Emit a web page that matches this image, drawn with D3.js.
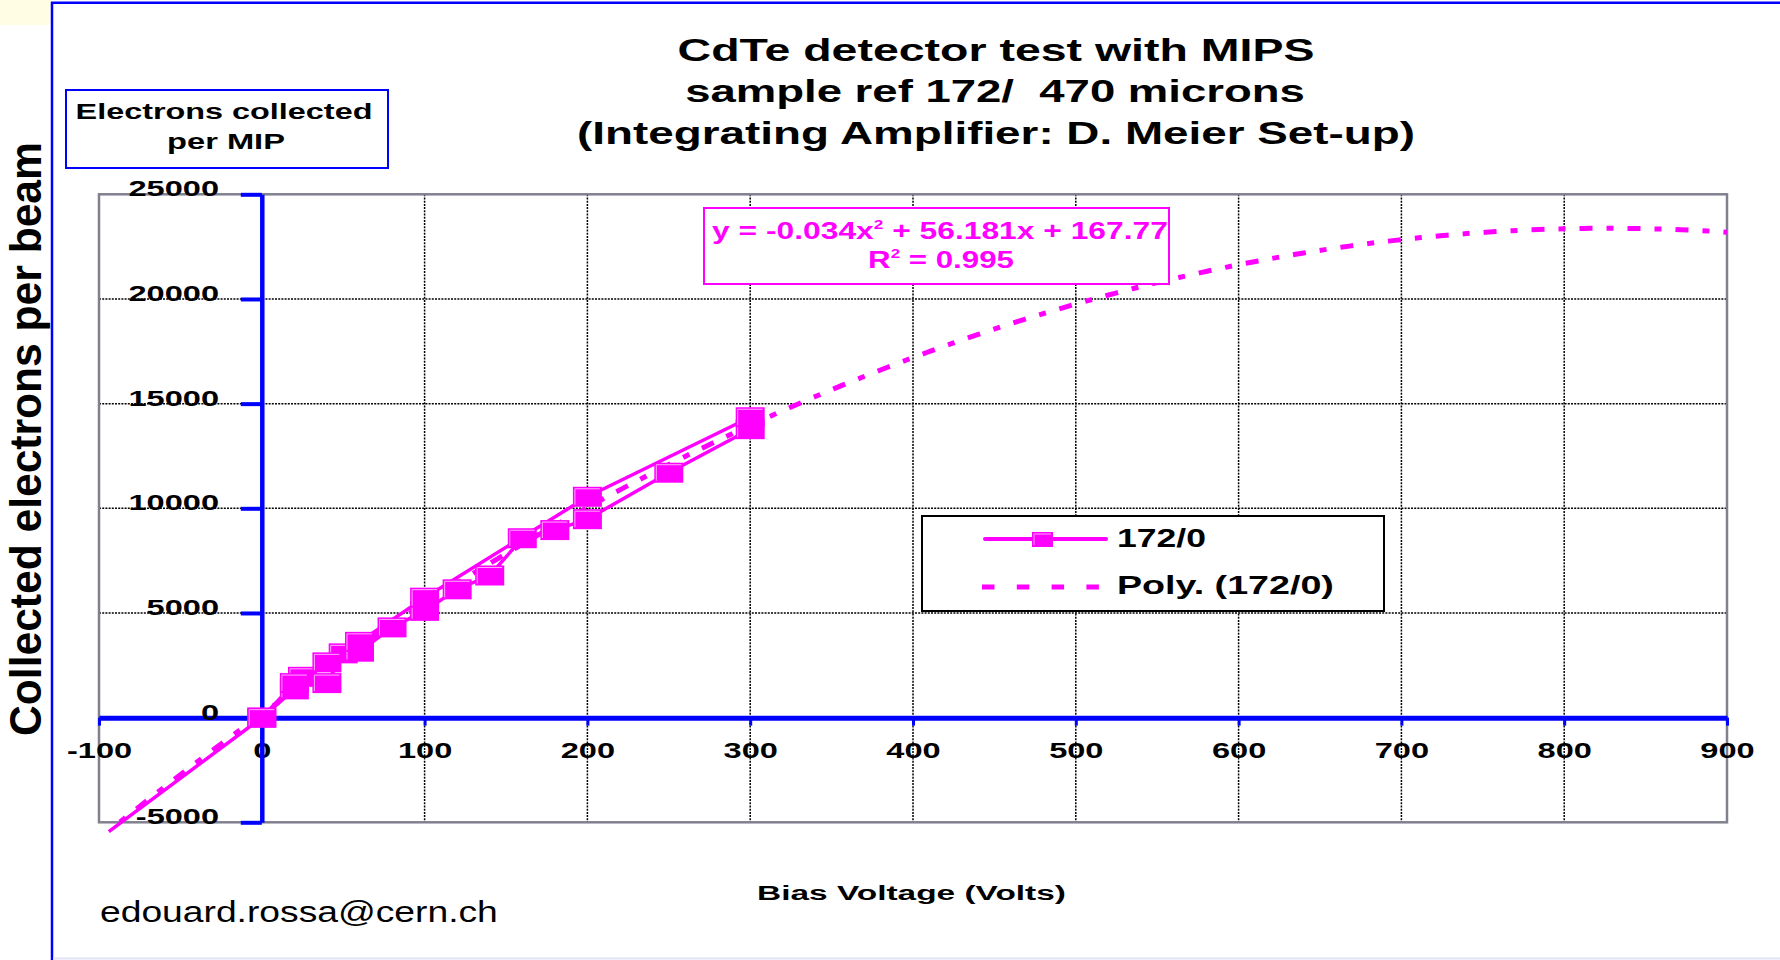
<!DOCTYPE html>
<html>
<head>
<meta charset="utf-8">
<script src="https://cdn.jsdelivr.net/npm/d3@7"></script>
<style>
  html, body { margin: 0; padding: 0; background: #ffffff; }
  svg { display: block; font-family: "Liberation Sans", Arial, Helvetica, sans-serif; }
</style>
</head>
<body>
<svg id="chart" width="1780" height="960"></svg>
<script>
// ---- chart data ----
const titleLines = [
  "CdTe detector test with MIPS",
  "sample ref 172/  470 microns",
  "(Integrating Amplifier: D. Meier Set-up)"
];
const unitLabel = ["Electrons collected", "per MIP"];
const xTitle = "Bias Voltage (Volts)";
const yTitle = "Collected electrons per beam";
const author = "edouard.rossa@cern.ch";
const seriesName = "172/0";
const xTicks = [-100, 0, 100, 200, 300, 400, 500, 600, 700, 800, 900];
const yTicks = [-5000, 0, 5000, 10000, 15000, 20000, 25000];

// measurement sequence: ramp up to 300 V, back down, then the negative bias point
const biasVolts = [0, 20, 25, 40, 50, 60, 80, 100, 120, 140, 160, 180, 200, 250, 300,
                   300, 200, 100, 60, 40, 20, 0, -94];
const electrons = [0, 1350, 1950, 1650, 3070, 3150, 4310, 5100, 6130, 6790, 8570, 8960, 9480, 11700, 13780,
                   14350, 10550, 5730, 3620, 2640, 1650, 0, -5450];

// second order polynomial fit: y = a x^2 + b x + c
const trendCoefficients = [-0.034, 56.181, 167.77];
const rSquared = 0.995;

// ---- layout ----
const MAGENTA = "#ff00ff", BLUE = "#0000ff";
const svg = d3.select("#chart");
const x = d3.scaleLinear().domain([-100, 900]).range([99, 1727]);
const y = d3.scaleLinear().domain([-5000, 25000]).range([822.3, 194.3]);
const SX = 1.48; // horizontal stretch of tick lettering

// text whose advance is fitted to a given width (tspans allowed)
function fitText(parent, o) {
  const g = parent.append("g")
    .attr("transform", `translate(${o.x},${o.y})` + (o.rotate ? ` rotate(${o.rotate})` : ""));
  const t = g.append("text")
    .attr("text-anchor", o.anchor || "middle")
    .attr("font-size", o.size)
    .attr("font-weight", o.weight || "bold")
    .attr("fill", o.fill || "#000")
    .style("white-space", "pre");
  if (typeof o.text === "function") o.text(t); else t.text(o.text);
  const w = t.node().getComputedTextLength();
  t.attr("transform", `scale(${o.width / w},${o.sy || 1})`);
  return t;
}

// page frame
svg.append("rect").attr("x", 0).attr("y", 0).attr("width", 51).attr("height", 25).attr("fill", "#fffde3");
svg.append("line").attr("x1", 52).attr("x2", 52).attr("y1", 2).attr("y2", 960)
  .attr("stroke", BLUE).attr("stroke-width", 2.5);
svg.append("line").attr("x1", 51).attr("x2", 1780).attr("y1", 2.7).attr("y2", 2.7)
  .attr("stroke", BLUE).attr("stroke-width", 2.5);
svg.append("line").attr("x1", 53).attr("x2", 1780).attr("y1", 958.5).attr("y2", 958.5)
  .attr("stroke", "#e2e2f6").attr("stroke-width", 2);

// titles
fitText(svg, { x: 996, y: 61, text: titleLines[0], width: 637, size: 32 });
fitText(svg, { x: 995, y: 102, text: titleLines[1], width: 620, size: 32 });
fitText(svg, { x: 996, y: 144, text: titleLines[2], width: 838, size: 32 });

// unit box
svg.append("rect").attr("x", 66).attr("y", 90).attr("width", 322).attr("height", 78)
  .attr("fill", "#fff").attr("stroke", BLUE).attr("stroke-width", 2);
fitText(svg, { x: 224, y: 119, text: unitLabel[0], width: 297, size: 22 });
fitText(svg, { x: 226, y: 149, text: unitLabel[1], width: 118, size: 22 });

// plot area, gridlines
const [x0, x1] = x.range(), [y0, y1] = y.range();
svg.append("rect").attr("x", x0).attr("y", y1).attr("width", x1 - x0).attr("height", y0 - y1).attr("fill", "#fff");
const grid = svg.append("g").attr("stroke", "#000").attr("stroke-width", 1.5).attr("stroke-dasharray", "2,1.2");
grid.selectAll("line.v").data(xTicks.slice(1, -1)).join("line").attr("class", "v")
  .attr("x1", d => x(d)).attr("x2", d => x(d)).attr("y1", y1).attr("y2", y0);
grid.selectAll("line.h").data(yTicks.slice(1, -1)).join("line").attr("class", "h")
  .attr("x1", x0).attr("x2", x1).attr("y1", d => y(d)).attr("y2", d => y(d));
svg.append("rect").attr("x", x0).attr("y", y1).attr("width", x1 - x0).attr("height", y0 - y1)
  .attr("fill", "none").attr("stroke", "#80808f").attr("stroke-width", 2.5);

// axes crossing at the origin
const gx = svg.append("g").attr("transform", `translate(0,${y(0)})`)
  .call(d3.axisBottom(x).tickValues(xTicks).tickSize(8).tickSizeOuter(0).tickFormat(d => String(d)));
gx.select(".domain").attr("stroke", BLUE).attr("stroke-width", 5);
gx.selectAll(".tick line").attr("stroke", BLUE).attr("stroke-width", 3);
gx.attr("font-family", null).attr("font-size", 22).attr("font-weight", "bold");
gx.selectAll(".tick text").attr("fill", "#000").attr("y", 40).attr("dy", 0)
  .attr("transform", `scale(${SX},1)`);

const gy = svg.append("g").attr("transform", `translate(${x(0)},0)`)
  .call(d3.axisLeft(y).tickValues(yTicks).tickSize(21).tickSizeOuter(0).tickFormat(d => String(d)));
gy.select(".domain").attr("stroke", BLUE).attr("stroke-width", 4.5);
gy.selectAll(".tick line").attr("stroke", BLUE).attr("stroke-width", 4);
gy.attr("font-family", null).attr("font-size", 22).attr("font-weight", "bold");
gy.selectAll(".tick text").attr("fill", "#000").attr("x", (219 - x(0)) / SX).attr("y", 1.5).attr("dy", 0)
  .attr("transform", `scale(${SX},1)`);

// axis titles and signature
fitText(svg, { x: 41, y: 439, text: yTitle, width: 594, size: 40, rotate: -90, sy: 1.1 });
fitText(svg, { x: 911.5, y: 900, text: xTitle, width: 309, size: 21 });
fitText(svg, { x: 100, y: 922, text: author, width: 398, size: 29, weight: "normal", anchor: "start" });

// polynomial trend line, clipped to the plot area
svg.append("clipPath").attr("id", "plotClip").append("rect")
  .attr("x", x0).attr("y", y1).attr("width", x1 - x0).attr("height", y0 - y1);
const [ta, tb, tc] = trendCoefficients;
const trendX = d3.range(-100, 900.01, 4);
svg.append("path")
  .attr("clip-path", "url(#plotClip)")
  .attr("d", d3.line().x(v => x(v)).y(v => y(ta * v * v + tb * v + tc))(trendX))
  .attr("fill", "none").attr("stroke", MAGENTA).attr("stroke-width", 5)
  .attr("stroke-dasharray", "13,14,7,14");

// measured series
const idx = d3.range(biasVolts.length);
svg.append("path")
  .attr("d", d3.line().x(i => x(biasVolts[i])).y(i => y(electrons[i]))(idx))
  .attr("fill", "none").attr("stroke", MAGENTA).attr("stroke-width", 3.5)
  .attr("stroke-linejoin", "round");

function marker(g, cx, cy, w, h) {
  g.append("rect").attr("x", cx - w / 2).attr("y", cy - h / 2).attr("width", w).attr("height", h)
    .attr("fill", MAGENTA);
  g.append("path")
    .attr("d", `M${cx - w / 2 + 2},${cy + h / 2 - 2}V${cy - h / 2 + 2}H${cx + w / 2 - 2}`)
    .attr("fill", "none").attr("stroke", "#ffa8ff").attr("stroke-width", 1);
}
const [dMin, dMax] = y.domain();
const markers = svg.append("g");
idx.filter(i => electrons[i] >= dMin && electrons[i] <= dMax)
  .forEach(i => marker(markers, x(biasVolts[i]), y(electrons[i]), 29, 20));

// fit equation box
svg.append("rect").attr("x", 704).attr("y", 208).attr("width", 465).attr("height", 76)
  .attr("fill", "#fff").attr("stroke", MAGENTA).attr("stroke-width", 2);
fitText(svg, {
  x: 940, y: 239, width: 456, size: 24, fill: MAGENTA,
  text: t => {
    t.append("tspan").text(`y = ${ta}x`);
    t.append("tspan").attr("dy", -10).attr("font-size", 13).text("2");
    t.append("tspan").attr("dy", 10).text(` + ${tb}x + ${tc}`);
  }
});
fitText(svg, {
  x: 941, y: 268, width: 146, size: 24, fill: MAGENTA,
  text: t => {
    t.append("tspan").text("R");
    t.append("tspan").attr("dy", -10).attr("font-size", 13).text("2");
    t.append("tspan").attr("dy", 10).text(` = ${rSquared}`);
  }
});

// legend
svg.append("rect").attr("x", 922).attr("y", 516).attr("width", 462).attr("height", 95)
  .attr("fill", "#fff").attr("stroke", "#000").attr("stroke-width", 2);
svg.append("line").attr("x1", 985).attr("x2", 1106).attr("y1", 539).attr("y2", 539)
  .attr("stroke", MAGENTA).attr("stroke-width", 4).attr("stroke-linecap", "round");
marker(svg, 1042.5, 539.5, 21, 15);
fitText(svg, { x: 1117, y: 547, text: seriesName, width: 89, size: 26, anchor: "start" });
svg.append("line").attr("x1", 982).attr("x2", 1099).attr("y1", 587).attr("y2", 587)
  .attr("stroke", MAGENTA).attr("stroke-width", 5).attr("stroke-dasharray", "12.5,22.3");
fitText(svg, { x: 1117, y: 594, text: `Poly. (${seriesName})`, width: 217, size: 26, anchor: "start" });
</script>
</body>
</html>
